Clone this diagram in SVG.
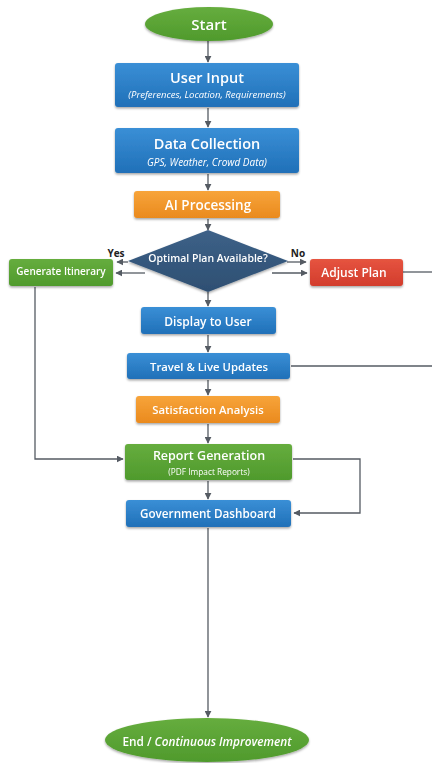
<svg xmlns="http://www.w3.org/2000/svg" width="432" height="763" viewBox="0 0 432 763">
  <defs>
    <linearGradient id="gBlue" x1="0" y1="0" x2="0" y2="1">
      <stop offset="0" stop-color="#3a8fd6"/>
      <stop offset="1" stop-color="#2070b8"/>
    </linearGradient>
    <linearGradient id="gOrange" x1="0" y1="0" x2="0" y2="1">
      <stop offset="0" stop-color="#f7a43a"/>
      <stop offset="1" stop-color="#ea8a1e"/>
    </linearGradient>
    <linearGradient id="gGreen" x1="0" y1="0" x2="0" y2="1">
      <stop offset="0" stop-color="#66ad3e"/>
      <stop offset="1" stop-color="#4f9a2c"/>
    </linearGradient>
    <linearGradient id="gRed" x1="0" y1="0" x2="0" y2="1">
      <stop offset="0" stop-color="#e65440"/>
      <stop offset="1" stop-color="#d23c2c"/>
    </linearGradient>
    <linearGradient id="gDia" x1="0" y1="0" x2="0" y2="1">
      <stop offset="0" stop-color="#3d6188"/>
      <stop offset="1" stop-color="#2e4f72"/>
    </linearGradient>
    <marker id="arr" viewBox="0 0 10 10" refX="9" refY="5" markerWidth="7" markerHeight="7" orient="auto" markerUnits="userSpaceOnUse">
      <path d="M0,0 L10,5 L0,10 z" fill="#555b63"/>
    </marker>
    <filter id="sh" x="-10%" y="-10%" width="120%" height="140%">
      <feDropShadow dx="0" dy="1.5" stdDeviation="1" flood-color="#000" flood-opacity="0.35"/>
    </filter>
  </defs>
  <style>
    text { font-family: "Open Sans", "Noto Sans", "DejaVu Sans", sans-serif; fill: #ffffff; text-anchor: middle; dominant-baseline: central; }
    .t { font-weight: 600; }
    .s { font-style: italic; font-weight: 500; }
    .lbl { fill: #222; font-weight: 700; font-size: 10px; }
    .c { fill: none; stroke: #555b63; stroke-width: 1.3; }
    .node { filter: url(#sh); }
  </style>
  <rect width="432" height="763" fill="#ffffff"/>

  <g id="connectors">
    <line class="c" x1="208" y1="41" x2="208" y2="62" marker-end="url(#arr)"/>
    <line class="c" x1="208" y1="108" x2="208" y2="127" marker-end="url(#arr)"/>
    <line class="c" x1="208" y1="174" x2="208" y2="190" marker-end="url(#arr)"/>
    <line class="c" x1="208" y1="219" x2="208" y2="230" marker-end="url(#arr)"/>
    <line class="c" x1="208" y1="292" x2="208" y2="306" marker-end="url(#arr)"/>
    <line class="c" x1="208" y1="335" x2="208" y2="352" marker-end="url(#arr)"/>
    <line class="c" x1="208" y1="380" x2="208" y2="395" marker-end="url(#arr)"/>
    <line class="c" x1="208" y1="424" x2="208" y2="443" marker-end="url(#arr)"/>
    <line class="c" x1="208" y1="481" x2="208" y2="499" marker-end="url(#arr)"/>
    <line class="c" x1="208" y1="528" x2="208" y2="717" marker-end="url(#arr)"/>
    <!-- yes branch -->
    <line class="c" x1="128" y1="262" x2="117" y2="262" marker-end="url(#arr)"/>
    <line class="c" x1="145" y1="273" x2="116" y2="273" marker-end="url(#arr)"/>
    <!-- no branch -->
    <line class="c" x1="287" y1="262" x2="306" y2="262" marker-end="url(#arr)"/>
    <line class="c" x1="272" y1="273" x2="307" y2="273" marker-end="url(#arr)"/>
    <!-- side runs -->
    <line class="c" x1="403" y1="272" x2="432" y2="272"/>
    <line class="c" x1="291" y1="366" x2="432" y2="366"/>
    <polyline class="c" points="35,287 35,459 123,459" marker-end="url(#arr)"/>
    <polyline class="c" points="293,459 360,459 360,513 294,513" marker-end="url(#arr)"/>
  </g>

  <g id="start" class="node">
    <ellipse cx="209" cy="24" rx="64" ry="17" fill="url(#gGreen)"/>
    <text x="209" y="24" class="t" font-size="15">Start</text>
  </g>

  <g id="user-input" class="node">
    <rect x="115" y="63" width="184" height="44" rx="3" fill="url(#gBlue)"/>
    <text x="207" y="77" class="t" font-size="14.5">User Input</text>
    <text x="207" y="94" class="s" font-size="9.5">(Preferences, Location, Requirements)</text>
  </g>

  <g id="data-collection" class="node">
    <rect x="115" y="128" width="184" height="45" rx="3" fill="url(#gBlue)"/>
    <text x="207" y="143" class="t" font-size="14.5">Data Collection</text>
    <text x="207" y="162" class="s" font-size="10">GPS, Weather, Crowd Data)</text>
  </g>

  <g id="ai-processing" class="node">
    <rect x="134" y="191" width="146" height="27" rx="3" fill="url(#gOrange)"/>
    <text x="208" y="205" class="t" font-size="13.5">AI Processing</text>
  </g>

  <g id="decision" class="node">
    <polygon points="208,230 288,261 208,292 128,261" fill="url(#gDia)"/>
    <text x="208" y="258" class="t" font-size="10.5">Optimal Plan Available?</text>
  </g>
  <text x="116" y="253" class="lbl">Yes</text>
  <text x="298" y="253" class="lbl">No</text>

  <g id="generate-itinerary" class="node">
    <rect x="9" y="259" width="104" height="27" rx="3" fill="url(#gGreen)"/>
    <text x="61" y="271" class="t" font-size="10">Generate Itinerary</text>
  </g>

  <g id="adjust-plan" class="node">
    <rect x="310" y="259" width="93" height="27" rx="3" fill="url(#gRed)"/>
    <text x="354" y="272" class="t" font-size="12">Adjust Plan</text>
  </g>

  <g id="display" class="node">
    <rect x="141" y="307" width="135" height="27" rx="3" fill="url(#gBlue)"/>
    <text x="208" y="321" class="t" font-size="12">Display to User</text>
  </g>

  <g id="travel" class="node">
    <rect x="127" y="353" width="163" height="26" rx="3" fill="url(#gBlue)"/>
    <text x="209" y="366" class="t" font-size="11.3">Travel &amp; Live Updates</text>
  </g>

  <g id="satisfaction" class="node">
    <rect x="136" y="396" width="144" height="27" rx="3" fill="url(#gOrange)"/>
    <text x="208" y="409" class="t" font-size="11.3">Satisfaction Analysis</text>
  </g>

  <g id="report" class="node">
    <rect x="125" y="444" width="167" height="36" rx="3" fill="url(#gGreen)"/>
    <text x="209" y="455" class="t" font-size="12.5">Report Generation</text>
    <text x="209" y="471" font-size="8.3">(PDF Impact Reports)</text>
  </g>

  <g id="dashboard" class="node">
    <rect x="126" y="500" width="165" height="27" rx="3" fill="url(#gBlue)"/>
    <text x="208" y="513" class="t" font-size="11.7">Government Dashboard</text>
  </g>

  <g id="end" class="node">
    <ellipse cx="207" cy="740" rx="102" ry="22" fill="url(#gGreen)"/>
    <text x="207" y="741" class="t" font-size="11.8">End / <tspan font-style="italic">Continuous Improvement</tspan></text>
  </g>
</svg>
